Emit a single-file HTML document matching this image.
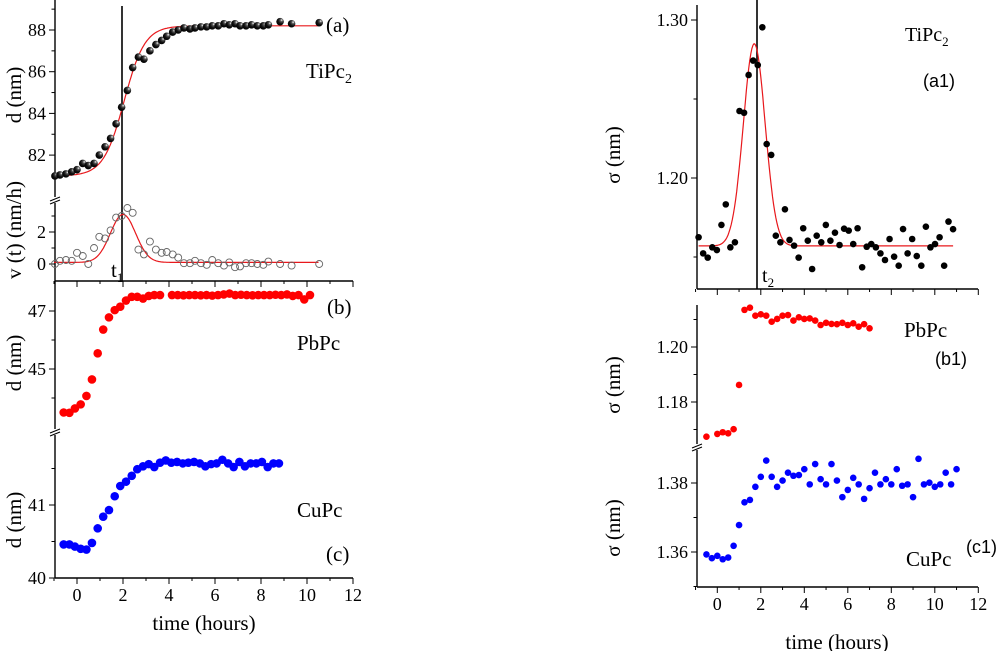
<!DOCTYPE html>
<html><head><meta charset="utf-8"><style>
body{margin:0;background:#fff;}
svg{display:block;font-family:"Liberation Serif",serif;}
.s{font-family:"Liberation Sans",sans-serif;}
</style></head><body>
<svg id="c" width="1000" height="651" viewBox="0 0 1000 651">
<defs>
<radialGradient id="ball" cx="0.7" cy="0.3" r="0.75"><stop offset="0" stop-color="#fff"/><stop offset="0.25" stop-color="#555"/><stop offset="0.6" stop-color="#111"/><stop offset="1" stop-color="#000"/></radialGradient>
</defs>
</svg>
<script>
// ---- data ----
const tV = [-0.96,-0.74,-0.48,-0.23,0,0.25,0.49,0.74,0.97,1.22,1.46,1.7,1.94,2.19,2.42,2.67,2.91,3.17,3.43,3.68,3.9,4.16,4.4,4.65,4.91,5.13,5.39,5.64,5.88,6.14,6.39,6.62,6.87,7.09,7.35,7.59,7.84,8.1,8.32,8.83,9.33,10.53];
const dA = [81.0,81.05,81.1,81.2,81.3,81.6,81.5,81.6,82.0,82.4,82.8,83.5,84.3,85.1,86.2,86.7,86.6,87.0,87.3,87.5,87.7,87.9,88.0,88.1,88.05,88.1,88.15,88.15,88.2,88.2,88.3,88.25,88.3,88.2,88.2,88.25,88.2,88.2,88.25,88.4,88.3,88.35];
const vA = [0,0.2,0.25,0.2,0.7,0.5,0,1.0,1.7,1.6,2.1,2.9,3.0,3.5,3.2,0.9,0.6,1.4,0.9,0.7,0.75,0.6,0.4,0.05,0.05,0.2,0.05,-0.05,0.25,0.05,-0.1,0.1,-0.2,-0.15,0.05,0.05,0,-0.05,0.15,0,-0.1,0];
const tB = [-0.58,-0.33,-0.09,0.16,0.41,0.65,0.9,1.14,1.39,1.64,1.88,2.13,2.38,2.62,2.87,3.12,3.36,3.61,4.13,4.38,4.63,4.88,5.13,5.38,5.63,5.88,6.13,6.38,6.63,6.88,7.13,7.38,7.63,7.88,8.13,8.38,8.63,8.88,9.13,9.38,9.63,9.88,10.13];
const dB = [43.5,43.49,43.64,43.78,44.07,44.64,45.54,46.36,46.78,47.03,47.15,47.36,47.49,47.49,47.43,47.52,47.55,47.55,47.55,47.55,47.54,47.55,47.55,47.54,47.55,47.53,47.55,47.57,47.6,47.55,47.56,47.55,47.54,47.55,47.55,47.55,47.56,47.55,47.57,47.52,47.55,47.4,47.55];
const tC = [-0.58,-0.33,-0.09,0.16,0.41,0.65,0.9,1.14,1.39,1.64,1.88,2.13,2.38,2.62,2.87,3.12,3.36,3.61,3.86,4.1,4.35,4.6,4.84,5.09,5.34,5.58,5.83,6.07,6.32,6.57,6.81,7.06,7.3,7.55,7.8,8.04,8.29,8.54,8.78];
const dC = [40.46,40.46,40.43,40.4,40.39,40.48,40.68,40.84,40.93,41.12,41.26,41.32,41.4,41.49,41.53,41.56,41.52,41.58,41.61,41.58,41.59,41.57,41.58,41.59,41.57,41.53,41.56,41.57,41.62,41.57,41.52,41.59,41.53,41.57,41.57,41.59,41.52,41.57,41.57];
const tA1 = [-0.86,-0.65,-0.44,-0.23,-0.02,0.19,0.39,0.6,0.81,1.02,1.23,1.44,1.65,1.86,2.07,2.27,2.48,2.69,2.9,3.11,3.32,3.53,3.74,3.95,4.16,4.36,4.57,4.78,4.99,5.2,5.41,5.62,5.83,6.04,6.25,6.45,6.66,6.87,7.08,7.29,7.5,7.71,7.92,8.13,8.34,8.54,8.75,8.96,9.17,9.38,9.59,9.8,10.01,10.22,10.43,10.63,10.84];
const sA1 = [1.1625,1.1523,1.1496,1.1561,1.1544,1.1703,1.1833,1.1561,1.1593,1.2424,1.2413,1.2652,1.2743,1.2715,1.2954,1.2215,1.2146,1.1635,1.1593,1.1802,1.1608,1.1572,1.1496,1.1682,1.1603,1.1424,1.1635,1.1593,1.1703,1.1603,1.1654,1.1576,1.1679,1.1667,1.1582,1.1682,1.1435,1.1565,1.1582,1.1561,1.1523,1.1481,1.1614,1.1502,1.1445,1.1677,1.1523,1.1614,1.1506,1.1445,1.1692,1.1561,1.1582,1.1625,1.1445,1.1724,1.1676];
const tB1 = [-0.5,0,0.25,0.5,0.75,1,1.25,1.5,1.75,2,2.25,2.5,2.75,3,3.25,3.5,3.75,4,4.25,4.5,4.75,5,5.25,5.5,5.75,6,6.25,6.5,6.75,7];
const sB1 = [1.1674,1.1684,1.169,1.1686,1.1701,1.1862,1.2135,1.2143,1.2114,1.2119,1.2114,1.2092,1.2102,1.2114,1.2116,1.2096,1.2108,1.2102,1.2104,1.2096,1.208,1.2088,1.2084,1.2083,1.2088,1.208,1.2086,1.2074,1.2083,1.2068];
const tC1 = [-0.5,-0.25,0,0.25,0.5,0.75,1,1.25,1.5,1.75,2,2.25,2.5,2.75,3,3.25,3.5,3.75,4,4.25,4.5,4.75,5,5.25,5.5,5.75,6,6.25,6.5,6.75,7,7.25,7.5,7.75,8,8.25,8.5,8.75,9,9.25,9.5,9.75,10,10.25,10.5,10.75,11];
const sC1 = [1.3593,1.3582,1.3589,1.3579,1.3584,1.3618,1.3678,1.3744,1.3751,1.3789,1.3818,1.3865,1.3818,1.3789,1.3807,1.383,1.3821,1.3823,1.384,1.3796,1.3855,1.3811,1.3796,1.3855,1.3807,1.3759,1.378,1.3815,1.3796,1.3754,1.3785,1.383,1.3796,1.3811,1.3796,1.384,1.3792,1.3796,1.3759,1.387,1.3796,1.3801,1.3789,1.3796,1.383,1.3796,1.384];
const xTicks = [0,2,4,6,8,10,12];

// ---- scales ----
const X1 = t => 77 + 23*t;
const X2 = t => 717.3 + 21.75*t;
const Ya = v => 30 + (88 - v)*20.85;
const Yv = v => 264 - 16*v;
const Yb = v => 311 + (47 - v)*29;
const Yc = v => 505 + (41 - v)*73;
const Ya1 = v => 20 + (1.30 - v)*1580;
const Yb1 = v => 347 + (1.20 - v)*2750;
const Yc1 = v => 483 + (1.38 - v)*3450;

const svg = document.getElementById('c');
const NS = 'http://www.w3.org/2000/svg';
function mk(tag, attrs, parent){const e=document.createElementNS(NS,tag);for(const k in attrs)e.setAttribute(k,attrs[k]);(parent||svg).appendChild(e);return e;}
function line(x1,y1,x2,y2,w){return mk('line',{x1,y1,x2,y2,stroke:'#000','stroke-width':w||1});}
function txt(x,y,s,size,anchor,cls){const e=mk('text',{x,y,'font-size':size,'text-anchor':anchor||'middle'});if(cls)e.setAttribute('class',cls);e.textContent=s;return e;}

function yAxis(x,y0,y1,name){const l=line(x,y0,x,y1,1.4);}
function brk(x,y){mk('rect',{x:x-6,y:y-3,width:12,height:6,fill:'#fff'});line(x-5,y+1,x+5,y-3);line(x-5,y+4,x+5,y);}
yAxis(55,0,578,'left-y-axis');
line(55,578,353,578,1.4);
line(55,281,353,281,1.4);
brk(55,200);brk(55,432);
yAxis(697,5,289,'right-y-axis-a1');
yAxis(697,305,587,'right-y-axis-b1c1');
line(697,289,978,289,1.4);
line(697,587,978,587,1.4);
brk(697,447);

function yt(x,Y,maj,min,fmt){maj.forEach(v=>{line(x-6,Y(v),x,Y(v));const t=txt(x-9,Y(v)+6,fmt(v),18,'end');});min.forEach(v=>line(x-3.5,Y(v),x,Y(v)));}
yt(55,Ya,[82,84,86,88],[81,83,85,87,89],v=>v);
yt(55,Yv,[0,2],[1,3],v=>v);
yt(55,Yb,[45,47],[44,46],v=>v);
yt(55,Yc,[40,41],[40.5,41.5],v=>v);
yt(697,Ya1,[1.20,1.30],[1.15,1.25],v=>v.toFixed(2));
yt(697,Yb1,[1.18,1.20],[1.17,1.19,1.21],v=>v.toFixed(2));
yt(697,Yc1,[1.36,1.38],[1.35,1.37],v=>v.toFixed(2));

for(let t=-1;t<=12;t++){
  line(X1(t),578,X1(t),t%2===0?584:581);
  line(X1(t),281,X1(t),t%2===0?287:284);
  line(X2(t),587,X2(t),t%2===0?593:590);
  line(X2(t),289,X2(t),t%2===0?295:292);
}
xTicks.forEach(t=>{
  const a=txt(X1(t),601,String(t),18);
  const b=txt(X2(t),610,String(t),18);
});

line(122,6,122,281,1.6);
line(757,0,757,289,1.6);

function curve(f,t0,t1,X,Y,name){let d='';for(let t=t0;t<=t1+1e-9;t+=0.05){d+=(d?'L':'M')+X(t).toFixed(1)+','+Y(f(t)).toFixed(1);}const p=mk('path',{d,fill:'none',stroke:'#e8181c','stroke-width':1.2});}
curve(t=>81+7.2/(1+Math.exp(-(t-2.05)/0.45)),-1,10.5,X1,Ya,'fit-d-tipc2');
curve(t=>0.1+3.0*Math.exp(-Math.pow(t-2,2)/(2*0.55*0.55)),-1,10.5,X1,Yv,'fit-v-tipc2');
curve(t=>1.157+0.128*Math.exp(-Math.pow(t-1.7,2)/(2*0.5*0.5)),-0.86,10.84,X2,Ya1,'fit-sigma-tipc2');

function pts(ts,vs,X,Y,r,style,name){ts.forEach((t,i)=>{const c=mk('circle',Object.assign({cx:X(t),cy:Y(vs[i]),r},style));});}
pts(tV,dA,X1,Ya,3.8,{fill:'url(#ball)'},'point-d-tipc2');
pts(tV,vA,X1,Yv,3.5,{fill:'none',stroke:'#666','stroke-width':0.9},'point-v-tipc2');
pts(tB,dB,X1,Yb,4.3,{fill:'#ff0000'},'point-d-pbpc');
pts(tC,dC,X1,Yc,4.3,{fill:'#0000ff'},'point-d-cupc');
pts(tA1,sA1,X2,Ya1,3.3,{fill:'#000'},'point-sigma-tipc2');
pts(tB1,sB1,X2,Yb1,3.3,{fill:'#ff0000'},'point-sigma-pbpc');
pts(tC1,sC1,X2,Yc1,3.3,{fill:'#0000ff'},'point-sigma-cupc');

function rot(x,y,s,name){const e=txt(x,y,s,21);e.setAttribute('transform','rotate(-90 '+x+' '+y+')');}
rot(21,95,'d (nm)','y-title-a');
rot(21,230,'v (t) (nm/h)','y-title-v');
rot(21,363,'d (nm)','y-title-b');
rot(21,520,'d (nm)','y-title-c');
rot(620,155,'σ (nm)','y-title-a1');
rot(620,385,'σ (nm)','y-title-b1');
rot(620,528,'σ (nm)','y-title-c1');
let e=txt(204,630,'time (hours)',21);
e=txt(837,649,'time (hours)',21);

function lab(x,y,s,size,name,cls,anchor){const t=txt(x,y,s,size,anchor||'start',cls);return t;}
lab(326,32,'(a)',21,'label-a');
let t=lab(306,78,'TiPc',21,'label-tipc2');mk('tspan',{'font-size':14,dy:5},t).textContent='2';
lab(297,350,'PbPc',21,'label-pbpc');
lab(327,314,'(b)',21,'label-b');
lab(297,517,'CuPc',21,'label-cupc');
lab(326,561,'(c)',21,'label-c');
t=lab(111,277,'t',21,'label-t1');mk('tspan',{'font-size':13,dy:5},t).textContent='1';
t=lab(762,282,'t',20,'label-t2');mk('tspan',{'font-size':13,dy:5},t).textContent='2';
t=lab(905,41,'TiPc',20,'label-tipc2-right');mk('tspan',{'font-size':13,dy:5},t).textContent='2';
lab(923,87,'(a1)',18,'label-a1','s');
lab(904,337,'PbPc',21,'label-pbpc-right');
lab(935,365,'(b1)',18,'label-b1','s');
lab(906,566,'CuPc',21,'label-cupc-right');
lab(966,553,'(c1)',18,'label-c1','s');
</script>
</body></html>
